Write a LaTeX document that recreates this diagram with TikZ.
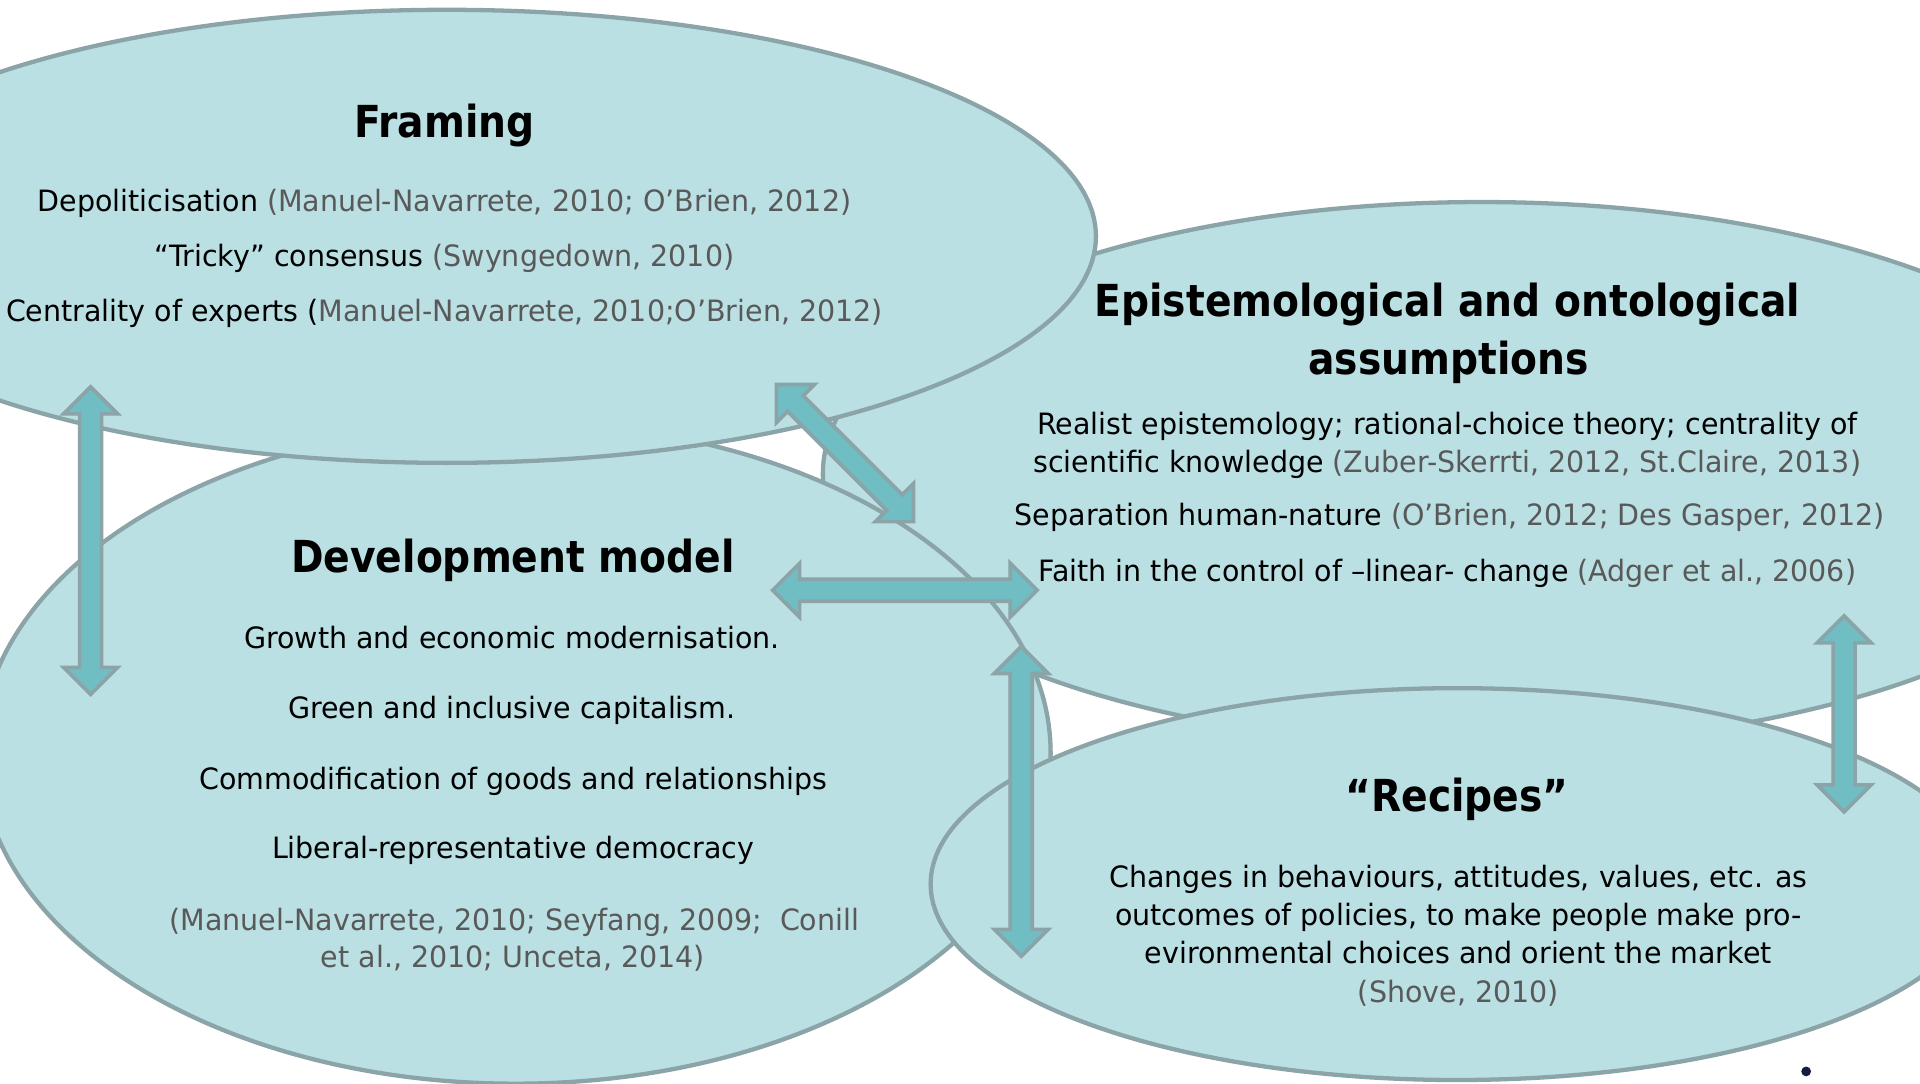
\documentclass[tikz,border=0pt]{standalone}
\usepackage{fontspec}
\setmainfont[FakeStretch=0.97]{DejaVu Sans}
\newfontfamily\ttlfont[FakeStretch=0.89]{DejaVu Sans}
\usetikzlibrary{shapes.geometric,calc}
\definecolor{fillc}{RGB}{186,224,227}
\definecolor{edgec}{RGB}{138,164,168}
\definecolor{arrowfill}{RGB}{113,189,196}
\definecolor{citegray}{RGB}{89,89,89}
\definecolor{dotc}{RGB}{20,30,60}
\tikzset{
  bubble/.style={ellipse, draw=edgec, fill=fillc, line width=3.5pt, inner sep=0pt},
  ttl/.style={font=\ttlfont\fontsize{36}{42}\selectfont\bfseries, text height=0.75em, text depth=0.25em, inner sep=0pt, yshift=-10pt},
  txt/.style={font=\fontsize{24}{29}\selectfont, text height=0.75em, text depth=0.25em, inner sep=0pt, yshift=-7pt},
  blockarr/.style={fill=arrowfill, draw=edgec, line width=3pt, line join=miter},
}
\newcommand{\refc}[1]{\textcolor{citegray}{#1}}
\newcommand{\dblarrow}[2]{%
  \path ($(#1)!22pt!(#2)$) coordinate (h1) ($(#2)!22pt!(#1)$) coordinate (h2);
  \filldraw[blockarr] (#1) -- ($(h1)!22pt!90:(#2)$) -- ($(h1)!9pt!90:(#2)$)
    -- ($(h2)!9pt!-90:(#1)$) -- ($(h2)!22pt!-90:(#1)$) -- (#2)
    -- ($(h2)!22pt!90:(#1)$) -- ($(h2)!9pt!90:(#1)$)
    -- ($(h1)!9pt!-90:(#2)$) -- ($(h1)!22pt!-90:(#2)$) -- cycle;}
\begin{document}
\begin{tikzpicture}[x=1pt,y=-1pt]
\useasboundingbox (0,0) rectangle (1568,885);
\fill[white] (0,0) rectangle (1568,885);
% bubbles
\node[bubble, minimum width=1076pt, minimum height=444pt] (epist) at (1210,387) {};
\node[bubble, minimum width=874pt, minimum height=540pt] (dev) at (421,615) {};
\node[bubble, minimum width=1060pt, minimum height=370pt] (framing) at (365,193) {};
\node[bubble, minimum width=860pt, minimum height=320pt] (recipes) at (1190,722) {};
% arrow end points
\coordinate (a1s) at (74,316);  \coordinate (a1e) at (74,567);
\coordinate (a2s) at (634,314); \coordinate (a2e) at (746,426);
\coordinate (a3s) at (631,482); \coordinate (a3e) at (847,482);
\coordinate (a4s) at (834,528); \coordinate (a4e) at (834,781);
\coordinate (a5s) at (1506,503); \coordinate (a5e) at (1506,663);
\dblarrow{a1s}{a1e}
\dblarrow{a2s}{a2e}
\dblarrow{a3s}{a3e}
\dblarrow{a4s}{a4e}
\dblarrow{a5s}{a5e}
% Framing
\node[ttl] (ft) at (363,100) {Framing};
\node[txt] (f1) at (363,163) {Depoliticisation \refc{(Manuel-Navarrete, 2010; O’Brien, 2012)}};
\node[txt] (f2) at (363,208) {“Tricky” consensus \refc{(Swyngedown, 2010)}};
\node[txt] (f3) at (363,253) {Centrality of experts (\refc{Manuel-Navarrete, 2010;O’Brien, 2012)}};
% Epistemological
\node[ttl] (et1) at (1182,246) {Epistemological and ontological};
\node[ttl] (et2) at (1183,293) {assumptions};
\node[txt] (e1) at (1182,345) {Realist epistemology; rational-choice theory; centrality of};
\node[txt] (e2) at (1182,376) {scientific knowledge \refc{(Zuber-Skerrti, 2012, St.Claire, 2013)}};
\node[txt] (e3) at (1184,420) {Separation human-nature \refc{(O’Brien, 2012; Des Gasper, 2012)}};
\node[txt] (e4) at (1182,465) {Faith in the control of –linear- change \refc{(Adger et al., 2006)}};
% Development
\node[ttl] (dt) at (419,455) {Development model};
\node[txt] (d1) at (418,520) {Growth and economic modernisation.};
\node[txt] (d2) at (418,577) {Green and inclusive capitalism.};
\node[txt] (d3) at (419,635) {Commodification of goods and relationships};
\node[txt] (d4) at (419,692) {Liberal-representative democracy};
\node[txt] (d5) at (420,750) {\refc{(Manuel-Navarrete, 2010; Seyfang, 2009;\ \ Conill}};
\node[txt] (d6) at (419,781) {\refc{et al., 2010; Unceta, 2014)}};
% Recipes
\node[ttl] (rt) at (1190,650) {“Recipes”};
\node[txt] (r1) at (1191,715) {Changes in behaviours, attitudes, values, etc. as};
\node[txt] (r2) at (1191,746) {outcomes of policies, to make people make pro-};
\node[txt] (r3) at (1191,777) {evironmental choices and orient the market};
\node[txt] (r4) at (1191,809) {\refc{(Shove, 2010)}};
% dot
\node[circle, fill=dotc, minimum size=8pt, inner sep=0pt] (dot) at (1475,875) {};
\end{tikzpicture}
\end{document}
